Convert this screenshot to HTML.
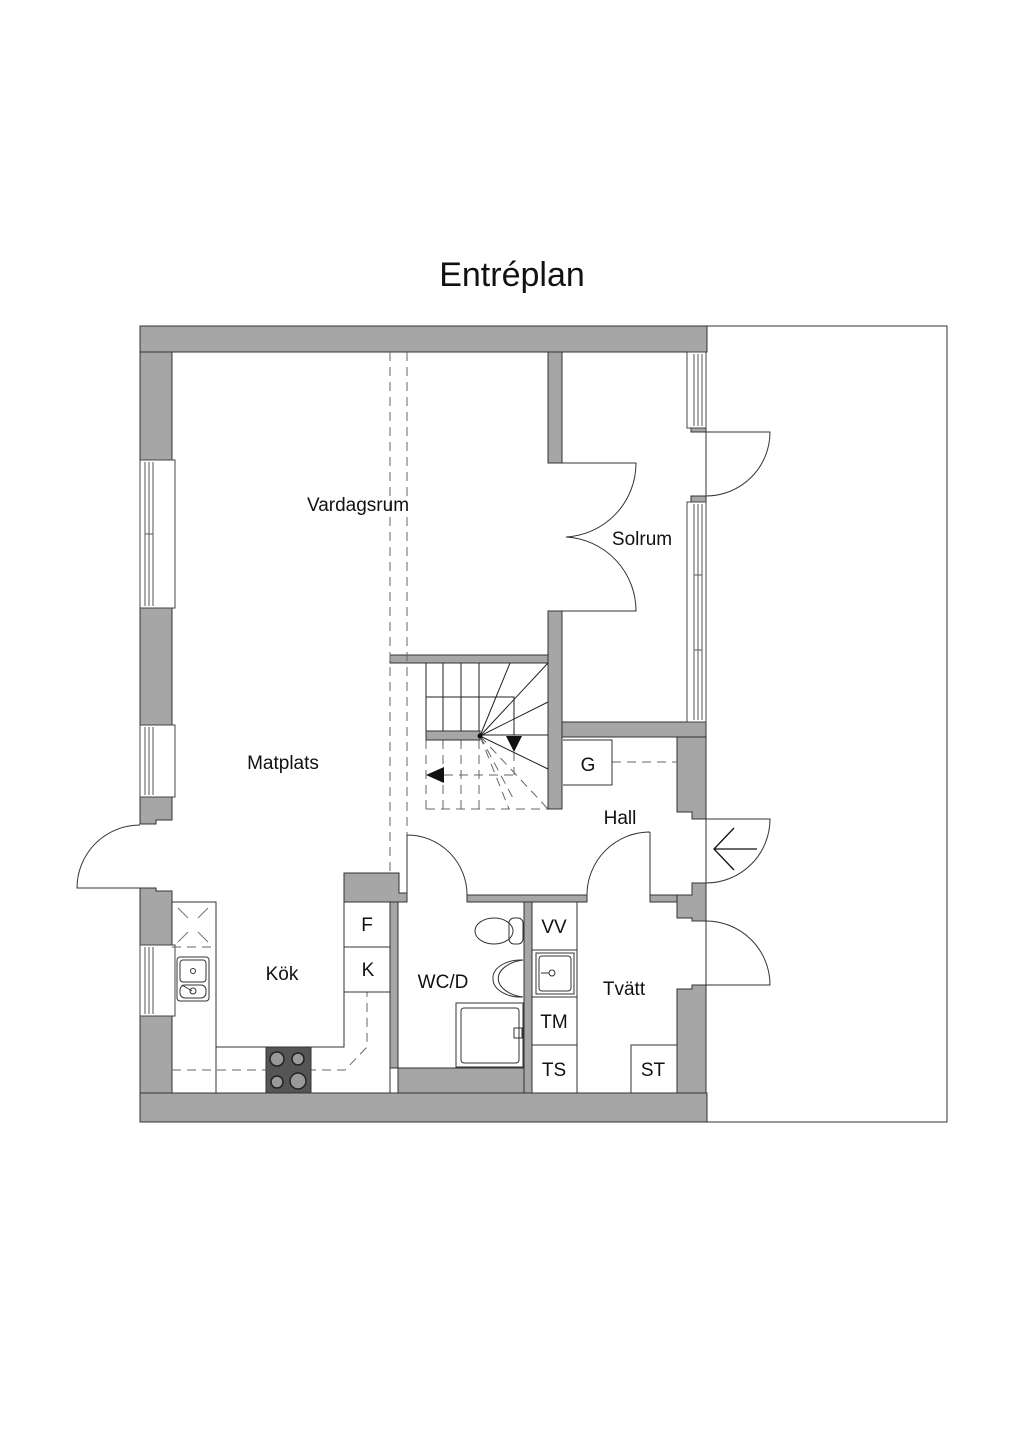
<!DOCTYPE html>
<html><head><meta charset="utf-8"><style>
html,body{margin:0;padding:0;background:#fff;}
svg{display:block;}
text{font-family:"Liberation Sans",sans-serif;fill:#111;}
</style></head><body>
<svg width="1024" height="1448" viewBox="0 0 1024 1448" xmlns="http://www.w3.org/2000/svg">
<rect width="1024" height="1448" fill="#fff"/>
<text x="512" y="286" font-size="34" text-anchor="middle">Entréplan</text>

<!-- outer right rectangle -->
<rect x="706" y="326" width="241" height="796" fill="none" stroke="#333" stroke-width="1"/>

<g fill="#a6a6a6" stroke="#333" stroke-width="1">
<!-- top wall -->
<rect x="140" y="326" width="567" height="26"/>
<!-- left wall pieces -->
<rect x="140" y="352" width="32" height="108"/>
<rect x="140" y="608" width="32" height="117"/>
<path d="M140 797 H172 V820 H156 V824 H140 Z"/>
<path d="M140 888 H156 V891 H172 V945 H140 Z"/>
<rect x="140" y="1016" width="32" height="106"/>
<!-- bottom wall -->
<rect x="140" y="1093" width="567" height="29"/>
<rect x="398" y="1068" width="134" height="25"/>
<!-- interior walls -->
<rect x="548" y="352" width="14" height="111"/>
<rect x="548" y="611" width="14" height="198"/>
<rect x="562" y="722" width="144" height="15"/>
<rect x="390" y="655" width="158" height="8"/>
<!-- right wall hall -->
<path d="M677 737 H706 V819 H692 V812 H677 Z"/>
<path d="M692 883 H706 V921 H692 V918 H677 V895 H692 Z"/>
<path d="M692 985 H706 V1093 H677 V989 H692 Z"/>
<!-- kitchen block/WC walls -->
<path d="M344 873 H399 V893 H407 V902 H344 Z"/>
<rect x="390" y="902" width="8" height="166"/>
<rect x="467" y="895" width="120" height="7"/>
<rect x="650" y="895" width="27" height="7"/>
<rect x="524" y="902" width="8" height="191"/>
<!-- window sills right -->
<rect x="691" y="426" width="15" height="6"/>
<rect x="691" y="496" width="15" height="6"/>
</g>

<!-- windows left -->
<g fill="#fff" stroke="#444" stroke-width="1">
<rect x="140" y="460" width="35" height="148"/>
<rect x="140" y="725" width="35" height="72"/>
<rect x="140" y="945" width="35" height="71"/>
<rect x="687" y="352" width="19" height="76"/>
<rect x="687" y="502" width="19" height="220"/>
</g>
<g stroke="#555" stroke-width="1" fill="none">
<path d="M145 462 V606 M149 462 V606 M153 462 V606 M145 534 H153"/>
<path d="M145 727 V795 M149 727 V795 M153 727 V795"/>
<path d="M145 947 V1014 M149 947 V1014 M153 947 V1014"/>
<path d="M694 354 V426 M698 354 V426 M702 354 V426"/>
<path d="M694 504 V720 M698 504 V720 M702 504 V720 M694 575 H702 M694 650 H702"/>
</g>

<!-- doors -->
<g fill="none" stroke="#333" stroke-width="1">
<path d="M140 888 H77 A63 63 0 0 1 140 825"/>
<path d="M706 432 H770 A64 64 0 0 1 706 496"/>
<path d="M706 819 H770 A64 64 0 0 1 706 883"/>
<path d="M706 985 H770 A64 64 0 0 0 706 921"/>
<path d="M562 463 H636 A74 74 0 0 1 566 537"/>
<path d="M562 611 H636 A74 74 0 0 0 566 537"/>
<path d="M407 835 V895 M407 835 A60 60 0 0 1 467 895"/>
<path d="M650 832 V895 M650 832 A63 63 0 0 0 587 895"/>
<path d="M757 849 H714 M734 828 L714 849 L734 870" stroke="#111" stroke-width="1.3"/>
</g>

<!-- dashed guides -->
<g fill="none" stroke="#666" stroke-width="1" stroke-dasharray="9 6">
<path d="M390 352 V873"/>
<path d="M407 352 V835"/>
<path d="M612 762 H677"/>
<path d="M172 1070 H345 L367 1047 V992"/>
<path d="M577 1045 V1093"/>
<path d="M172 947 H216"/>
<path d="M426 740 V809 M443 740 V809 M461 740 V809 M479 740 V809 M426 809 H548 M444 775 H514 M514 752 V775"/>
<path d="M480 736 L509 809 M480 736 L548 809 M480 736 L514 800"/>
</g>

<!-- stairs -->
<g fill="none" stroke="#222" stroke-width="1">
<path d="M426 663 V732 M443 663 V732 M461 663 V732 M479 663 V732"/>
<path d="M426 697 H514 V735 M480 735 H548"/>
<path d="M480 736 L510 663 M480 736 L548 663 M480 736 L548 702 M480 736 L548 769"/>
</g>
<rect x="426" y="731" width="54" height="9" fill="#a6a6a6" stroke="#333"/>
<circle cx="480" cy="736" r="2.5" fill="#111"/>
<path d="M426 775 L444 767 L444 783 Z" fill="#111"/>
<path d="M506 736 L522 736 L514 752 Z" fill="#111"/>

<!-- kitchen -->
<g fill="none" stroke="#333" stroke-width="1">
<path d="M172 902 H216 V1093"/>
<path d="M216 1047 H344 V902 M344 947 H390 M344 992 H390"/>
<path d="M390 992 V1093"/>
<path d="M178 908 L188 918 M208 908 L198 918 M178 942 L188 932 M208 942 L198 932" stroke="#777"/>
<rect x="177" y="957" width="32" height="44" rx="3"/>
<rect x="180" y="960" width="26" height="22" rx="3"/>
<rect x="180" y="985" width="26" height="13" rx="5"/>
<circle cx="193" cy="971" r="2.5"/>
<circle cx="193" cy="991" r="3"/>
<path d="M182 985 L192 991"/>
</g>
<rect x="266" y="1047" width="45" height="46" fill="#555" stroke="#333"/>
<g fill="#999" stroke="#222" stroke-width="1.5">
<circle cx="277" cy="1059" r="7"/><circle cx="298" cy="1059" r="6"/>
<circle cx="277" cy="1082" r="6"/><circle cx="298" cy="1081" r="8"/>
</g>

<!-- WC -->
<g fill="none" stroke="#333" stroke-width="1">
<ellipse cx="494" cy="931" rx="19" ry="13"/>
<rect x="509" y="918" width="14" height="26" rx="5"/>
<path d="M523 960 A32 19 0 0 0 523 997 M523 960 A28 18 0 0 0 493 979 A28 18 0 0 0 523 997"/>
<rect x="456" y="1003" width="67" height="64"/>
<rect x="461" y="1008" width="58" height="55" rx="3"/>
<path d="M514 1028 h8 v10 h-8 z"/>
</g>

<!-- Tvatt -->
<g fill="none" stroke="#333" stroke-width="1">
<path d="M532 902 H577 V1093 M532 950 H577 M532 997 H577 M532 1045 H577"/>
<rect x="536" y="953" width="38" height="41"/>
<rect x="539" y="956" width="32" height="35" rx="3"/>
<circle cx="552" cy="973" r="3"/>
<path d="M541 973 H549"/>
<path d="M631 1093 V1045 H677"/>
<path d="M563 740 H612 V785 H563"/>
</g>

<!-- labels -->
<g font-size="19">
<text x="358" y="511" text-anchor="middle">Vardagsrum</text>
<text x="642" y="545" text-anchor="middle">Solrum</text>
<text x="283" y="769" text-anchor="middle">Matplats</text>
<text x="282" y="980" text-anchor="middle">Kök</text>
<text x="443" y="988" text-anchor="middle">WC/D</text>
<text x="624" y="995" text-anchor="middle">Tvätt</text>
<text x="620" y="824" text-anchor="middle">Hall</text>
<text x="367" y="931" text-anchor="middle">F</text>
<text x="368" y="976" text-anchor="middle">K</text>
<text x="554" y="933" text-anchor="middle">VV</text>
<text x="554" y="1028" text-anchor="middle">TM</text>
<text x="554" y="1076" text-anchor="middle">TS</text>
<text x="653" y="1076" text-anchor="middle">ST</text>
<text x="588" y="771" text-anchor="middle">G</text>
</g>
</svg>
</body></html>
